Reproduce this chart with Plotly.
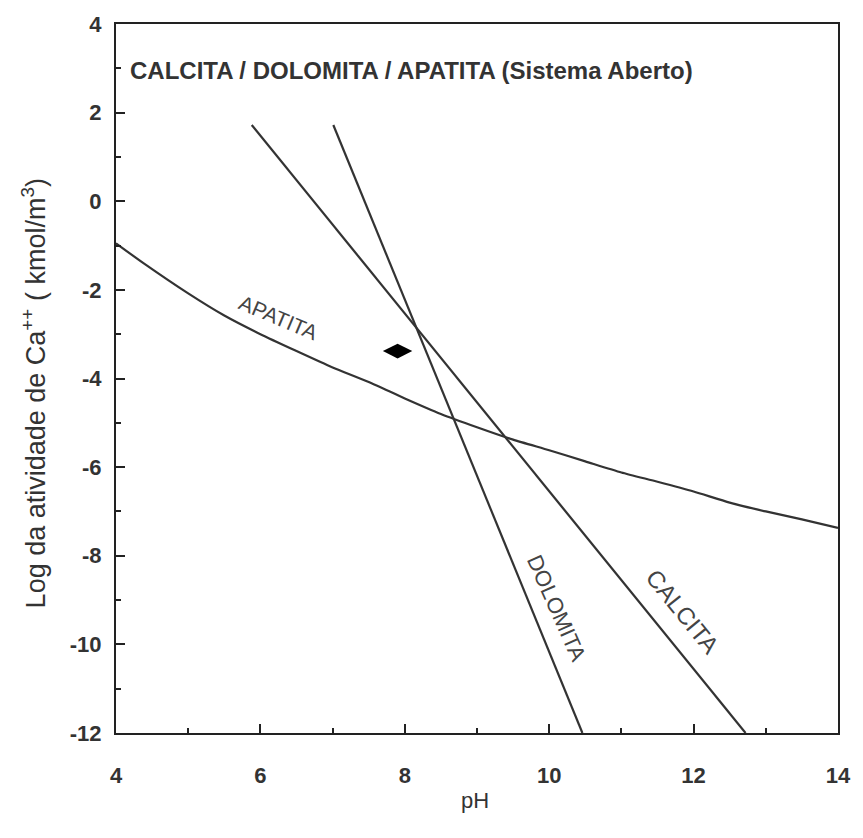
import plotly.graph_objects as go

# pH / log a(Ca++) stability lines
apatita_ph = [4.0, 4.4, 5.0, 5.5, 6.0, 6.5, 7.0, 7.5, 8.0, 8.5, 9.0, 9.5,
              10.0, 10.5, 11.0, 11.5, 12.0, 12.5, 13.0, 13.5, 14.0]
apatita_ca = [-0.95, -1.42, -2.08, -2.58, -3.00, -3.38, -3.75, -4.08, -4.45,
              -4.80, -5.10, -5.38, -5.62, -5.87, -6.12, -6.33, -6.55, -6.80,
              -7.00, -7.18, -7.37]
calcita_ph = [5.88, 12.72]
calcita_ca = [1.72, -12.0]
dolomita_ph = [7.01, 10.46]
dolomita_ca = [1.72, -12.0]

# sample point
amostra_ph = [7.9]
amostra_ca = [-3.38]

x_ticks = [4, 6, 8, 10, 12, 14]
x_ticktext = ["4", "6", "8", "10", "12", "14"]
y_ticks = [4, 2, 0, -2, -4, -6, -8, -10, -12]
y_ticktext = ["4", "2", "0", "-2", "-4", "-6", "-8", "-10", "-12"]

FONT = "Liberation Sans, Arial, sans-serif"
LINE = "#333333"
TXT = "#333333"

fig = go.Figure()
fig.add_trace(go.Scatter(x=apatita_ph, y=apatita_ca, mode="lines",
                         line=dict(color=LINE, width=2.2, shape="spline",
                                   smoothing=0.6),
                         showlegend=False, hoverinfo="skip"))
for xs, ys in [(calcita_ph, calcita_ca), (dolomita_ph, dolomita_ca)]:
    fig.add_trace(go.Scatter(x=xs, y=ys, mode="lines",
                             line=dict(color=LINE, width=2.2),
                             showlegend=False, hoverinfo="skip"))
fig.add_trace(go.Scatter(x=amostra_ph, y=amostra_ca, mode="markers",
                         marker=dict(symbol="diamond-wide", size=21,
                                     color="black"),
                         showlegend=False))

# curve labels
labels = [
    ("APATITA", 6.25, -2.62, 23, 21),
    ("DOLOMITA", 10.1, -9.2, 66, 22),
    ("CALCITA", 11.85, -9.25, 51, 24),
]
for text, x, y, ang, size in labels:
    fig.add_annotation(x=x, y=y, text=text, showarrow=False, textangle=ang,
                       font=dict(family=FONT, size=size, color="#444444"))

fig.add_annotation(x=4.17, y=2.94, xanchor="left", yanchor="middle",
                   text="CALCITA / DOLOMITA / APATITA (Sistema Aberto)",
                   showarrow=False,
                   font=dict(family=FONT, size=24, color=TXT, weight="bold"))

# axis titles
fig.add_annotation(xref="paper", yref="paper", x=0, y=0.479, xshift=-82,
                   xanchor="center", yanchor="middle", textangle=-90,
                   text="Log da atividade de Ca<sup>++</sup> ( kmol/m<sup>3</sup>)",
                   showarrow=False,
                   font=dict(family=FONT, size=27, color=TXT))
fig.add_annotation(xref="paper", yref="paper", x=0.4966, y=0, yshift=-67,
                   xanchor="center", yanchor="middle", text="pH",
                   showarrow=False,
                   font=dict(family=FONT, size=22, color=TXT))

axis_common = dict(
    showgrid=False, zeroline=False, showline=True, linecolor="#222222",
    linewidth=2, mirror=True, ticks="inside", ticklen=9, tickwidth=2,
    tickcolor="#222222",
    tickfont=dict(family=FONT, size=22, color=TXT, weight="bold"),
    minor=dict(ticks="inside", ticklen=5, tickwidth=1.5, dtick=1,
               tickcolor="#222222"),
)

fig.update_xaxes(range=[4, 14], tickvals=x_ticks, ticktext=x_ticktext,
                 ticklabelstandoff=22, **axis_common)
fig.update_yaxes(range=[-12, 4], tickvals=y_ticks, ticktext=y_ticktext,
                 ticklabelstandoff=8, **axis_common)

fig.update_layout(width=863, height=838, plot_bgcolor="white",
                  paper_bgcolor="white",
                  margin=dict(l=116, r=18, t=18, b=105))

fig.write_html("out.html")
